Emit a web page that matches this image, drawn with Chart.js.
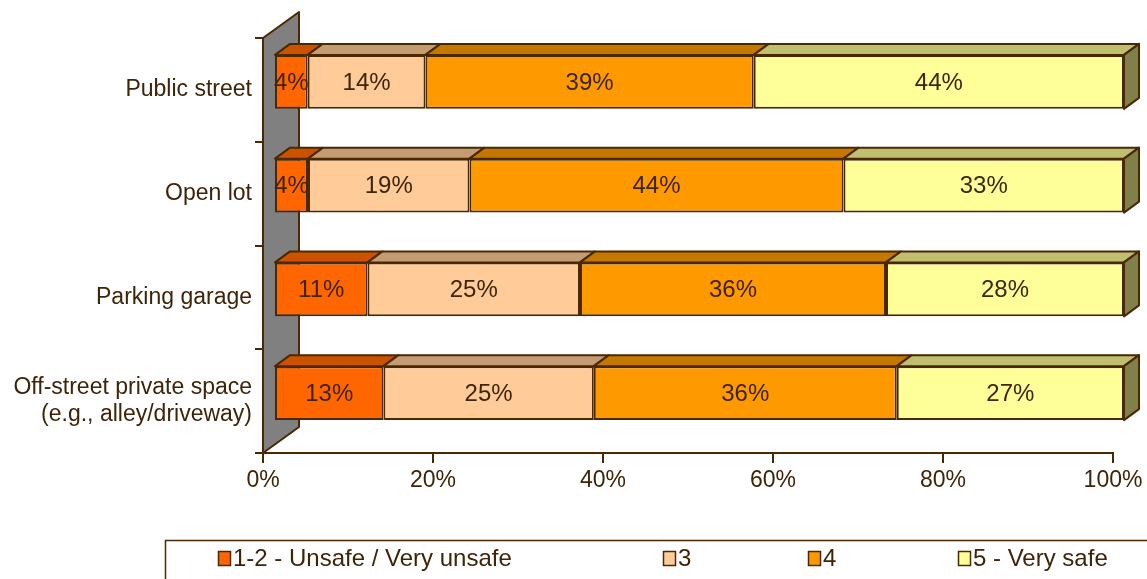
<!DOCTYPE html>
<html>
<head>
<meta charset="utf-8">
<script src="https://cdn.jsdelivr.net/npm/chart.js@4.4.1/dist/chart.umd.min.js"></script>
<style>
  html, body { margin: 0; padding: 0; background: #fff; }
  #wrap { width: 1147px; height: 579px; position: relative; }
</style>
</head>
<body>
<div id="wrap"><canvas id="chart" width="1147" height="579"></canvas></div>
<script>
// data (percent labels per row)
const categories = ['Public street', 'Open lot', 'Parking garage', ['Off-street private space', '(e.g., alley/driveway)']];
const seriesNames = ['1-2 - Unsafe / Very unsafe', '3', '4', '5 - Very safe'];
const unsafe = [4, 4, 11, 13];
const three = [14, 19, 25, 25];
const four = [39, 44, 36, 36];
const verySafe = [44, 33, 28, 27];
const xTicks = [0, 20, 40, 60, 80, 100];

const frontColors = ['#FF6600', '#FFCC99', '#FF9900', '#FFFF99'];
const topColors = ['#CC5200', '#C49C74', '#C47800', '#BFBF70'];
const sideColor = '#80804A';
const lineColor = '#4A2800';
const textColor = '#3E2408';
const FONT = 'Liberation Sans, Arial, sans-serif';

// 3d offsets
const shiftX = 11, shiftY = -8;   // front face relative to axis
const depthX = 15, depthY = -11;  // bar depth
const wallX = 36, wallY = -26;    // back wall depth

const series = [unsafe, three, four, verySafe];
// rows sum to 100/101 because of rounding -> stack as shares of the row
const rowSums = categories.map((c, i) => series.reduce((s, arr) => s + arr[i], 0));

const datasets = series.map((arr, k) => ({
    label: seriesNames[k],
    data: arr.map((v, i) => v / rowSums[i] * 100),
    raw: arr,
    backgroundColor: frontColors[k],
    borderColor: lineColor,
    borderWidth: 2,
    borderSkipped: false,
    categoryPercentage: 0.52,
    barPercentage: 1,
    clip: false
}));

function poly(ctx, pts, fill) {
    ctx.beginPath();
    ctx.moveTo(pts[0][0], pts[0][1]);
    for (let i = 1; i < pts.length; i++) ctx.lineTo(pts[i][0], pts[i][1]);
    ctx.closePath();
    ctx.fillStyle = fill;
    ctx.fill();
    ctx.stroke();
}

const box3d = {
    id: 'box3d',
    beforeDatasetsDraw(chart) {
        const ctx = chart.ctx;
        const a = chart.chartArea;
        ctx.save();
        ctx.lineWidth = 2;
        ctx.lineJoin = 'round';
        ctx.strokeStyle = lineColor;
        // back wall
        poly(ctx, [[a.left, a.top], [a.left + wallX, a.top + wallY],
                   [a.left + wallX, a.bottom + wallY], [a.left, a.bottom]], '#808080');

        // top faces + side of last segment
        const n = chart.data.datasets.length;
        chart.data.datasets.forEach((ds, k) => {
            chart.getDatasetMeta(k).data.forEach(bar => {
                const p = bar.getProps(['x', 'y', 'base', 'height'], true);
                const x0 = Math.min(p.base, p.x) + shiftX;
                const x1 = Math.max(p.base, p.x) + shiftX;
                const yT = p.y - p.height / 2 + shiftY;
                const yB = p.y + p.height / 2 + shiftY;
                poly(ctx, [[x0, yT], [x1, yT], [x1 + depthX, yT + depthY], [x0 + depthX, yT + depthY]], topColors[k]);
                if (k === n - 1) {
                    poly(ctx, [[x1, yT], [x1 + depthX, yT + depthY], [x1 + depthX, yB + depthY], [x1, yB]], sideColor);
                }
            });
        });
        ctx.restore();
        ctx.save();
        ctx.translate(shiftX, shiftY);
    },
    afterDatasetsDraw(chart) {
        const ctx = chart.ctx;
        ctx.restore();
        ctx.save();
        ctx.font = '24px ' + FONT;
        ctx.fillStyle = textColor;
        ctx.textAlign = 'center';
        ctx.textBaseline = 'middle';
        chart.data.datasets.forEach((ds, k) => {
            chart.getDatasetMeta(k).data.forEach((bar, i) => {
                const p = bar.getProps(['x', 'y', 'base'], true);
                ctx.fillText(ds.raw[i] + '%', (p.x + p.base) / 2 + shiftX, p.y + shiftY + 1);
            });
        });
        ctx.restore();
    },
    afterDraw(chart) {
        // legend box along the bottom
        const ctx = chart.ctx;
        ctx.save();
        ctx.strokeStyle = lineColor;
        ctx.lineWidth = 1.5;
        ctx.strokeRect(165.5, 540.5, 1100, 60);
        const xs = [218, 663, 808, 958];
        ctx.font = '24px ' + FONT;
        ctx.textBaseline = 'middle';
        ctx.lineWidth = 1.5;
        seriesNames.forEach((name, k) => {
            ctx.fillStyle = frontColors[k];
            ctx.fillRect(xs[k], 551, 12, 14);
            ctx.strokeRect(xs[k] + 0.5, 551.5, 12, 14);
            ctx.fillStyle = textColor;
            ctx.fillText(name, xs[k] + 15, 559);
        });
        ctx.restore();
    }
};

new Chart(document.getElementById('chart'), {
    type: 'bar',
    data: { labels: categories, datasets: datasets },
    options: {
        indexAxis: 'y',
        responsive: false,
        animation: false,
        layout: { padding: { top: 38, right: 34, bottom: 76, left: 0 } },
        plugins: { legend: { display: false }, tooltip: { enabled: false } },
        scales: {
            x: {
                stacked: true,
                min: 0,
                max: 100,
                afterBuildTicks(scale) { scale.ticks = xTicks.map(v => ({ value: v })); },
                afterFit(scale) { scale.height = 50; },
                ticks: {
                    callback: v => v + '%',
                    color: textColor,
                    font: { family: FONT, size: 23 },
                    padding: 4,
                    maxRotation: 0
                },
                grid: { drawOnChartArea: false, tickLength: 10, color: lineColor, lineWidth: 2 },
                border: { color: lineColor, width: 2 }
            },
            y: {
                stacked: true,
                afterFit(scale) { scale.width = 263; },
                ticks: {
                    color: textColor,
                    font: { family: FONT, size: 23 },
                    padding: 3
                },
                grid: { drawOnChartArea: false, tickLength: 8, color: lineColor, lineWidth: 2, offset: true },
                border: { color: lineColor, width: 2 }
            }
        }
    },
    plugins: [box3d]
});
</script>
</body>
</html>
